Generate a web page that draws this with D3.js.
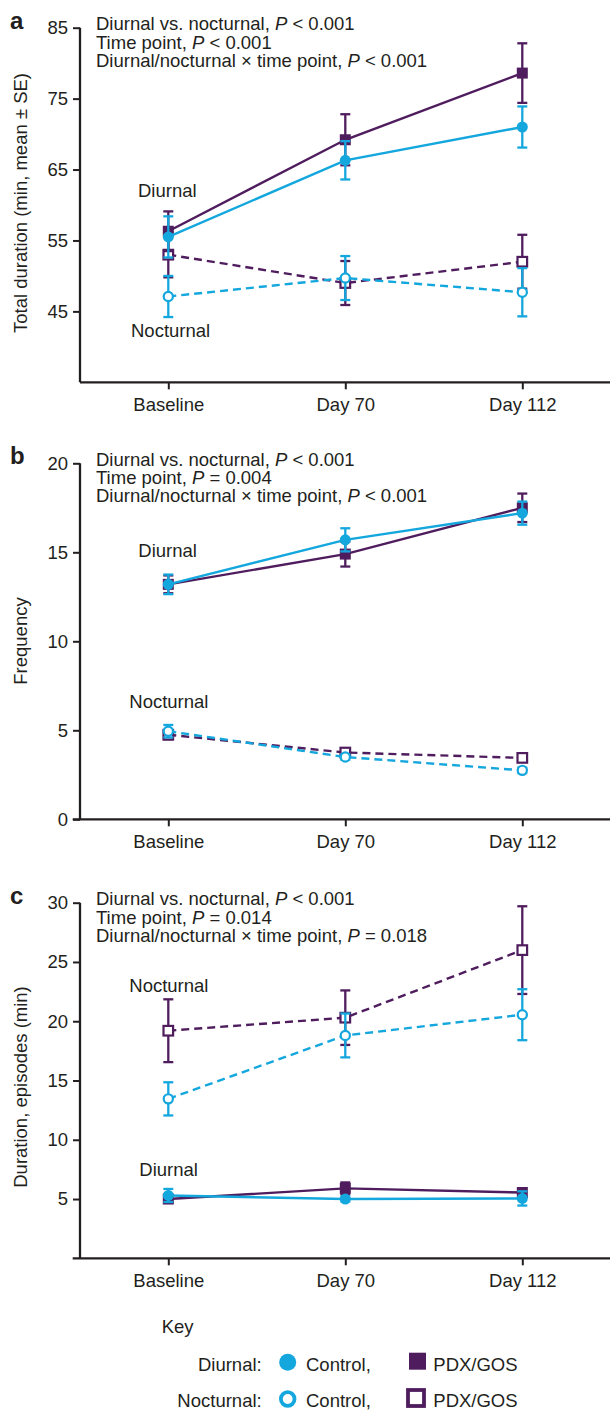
<!DOCTYPE html>
<html>
<head>
<meta charset="utf-8">
<script src="https://cdnjs.cloudflare.com/ajax/libs/d3/7.8.5/d3.min.js"></script>
<style>
  body { margin:0; background:#fff; }
  svg text { font-family:"Liberation Sans", Arial, sans-serif; fill:#231f20; }
</style>
</head>
<body>
<div id="chart"></div>
<script>

var timepoints = ["Baseline", "Day 70", "Day 112"];

// panel a - total duration
var a_dayCtrl = [55.5, 66.3, 71.0],  a_dayCtrlSE = [2.9, 2.7, 2.9];
var a_dayPdx  = [56.3, 69.2, 78.6],  a_dayPdxSE  = [2.8, 3.6, 4.2];
var a_ntCtrl  = [47.1, 49.7, 47.7],  a_ntCtrlSE  = [2.9, 3.1, 3.4];
var a_ntPdx   = [53.0, 49.0, 52.0],  a_ntPdxSE   = [3.2, 3.1, 3.8];
var a_ticks = [45, 55, 65, 75, 85];
var a_stats = [["Diurnal vs. nocturnal, ", "P", " < 0.001"],
               ["Time point, ", "P", " < 0.001"],
               ["Diurnal/nocturnal \u00d7 time point, ", "P", " < 0.001"]];

// panel b - frequency
var b_dayCtrl = [13.2, 15.7, 17.2],  b_dayCtrlSE = [0.55, 0.65, 0.65];
var b_dayPdx  = [13.2, 14.9, 17.5],  b_dayPdxSE  = [0.5, 0.7, 0.8];
var b_ntCtrl  = [4.95, 3.5, 2.75],   b_ntCtrlSE  = [0.35, 0.15, 0.15];
var b_ntPdx   = [4.75, 3.75, 3.45],  b_ntPdxSE   = [0.25, 0.15, 0.12];
var b_ticks = [0, 5, 10, 15, 20];
var b_stats = [["Diurnal vs. nocturnal, ", "P", " < 0.001"],
               ["Time point, ", "P", " = 0.004"],
               ["Diurnal/nocturnal \u00d7 time point, ", "P", " < 0.001"]];

// panel c - duration of episodes
var c_dayCtrl = [5.3, 5.0, 5.05],    c_dayCtrlSE = [0.55, 0.2, 0.6];
var c_dayPdx  = [5.0, 5.9, 5.55],    c_dayPdxSE  = [0.3, 0.5, 0.35];
var c_ntCtrl  = [13.45, 18.8, 20.55], c_ntCtrlSE = [1.4, 1.85, 2.15];
var c_ntPdx   = [19.2, 20.3, 26.0],  c_ntPdxSE   = [2.65, 2.3, 3.7];
var c_ticks = [5, 10, 15, 20, 25, 30];
var c_stats = [["Diurnal vs. nocturnal, ", "P", " < 0.001"],
               ["Time point, ", "P", " = 0.014"],
               ["Diurnal/nocturnal \u00d7 time point, ", "P", " = 0.018"]];

var purple = "#4f1d5e",
    cyan = "#14a7de",
    ink = "#231f20",
    fs = 18.5;

var svg = d3.select("#chart").append("svg")
    .attr("width", 610).attr("height", 1410);

function panel(p)
{
	var g = svg.append("g");

	var x = d3.scalePoint().domain(timepoints).range([168.3, 522.3]);
	var y = d3.scaleLinear().domain(p.domain).range([p.bottom, p.top]);

	// y axis
	var ya = g.append("g").attr("transform", "translate(80,0)")
		.call(d3.axisLeft(y).tickValues(p.ticks).tickSize(7).tickPadding(5));
	ya.select(".domain").remove();
	ya.append("line").attr("x1", 0).attr("x2", 0)
		.attr("y1", y(p.ticks[p.ticks.length-1])).attr("y2", p.bottom)
		.attr("stroke", ink).attr("stroke-width", 2.3);
	ya.selectAll(".tick line").attr("stroke", ink).attr("stroke-width", 2);
	ya.selectAll(".tick text").attr("font-size", fs).attr("fill", ink)
		.attr("font-family", "Liberation Sans, Arial, sans-serif");

	// x axis
	var xa = g.append("g").attr("transform", "translate(0," + p.bottom + ")")
		.call(d3.axisBottom(x).tickSize(7).tickPadding(9));
	xa.select(".domain").remove();
	xa.append("line").attr("x1", p.xstart).attr("x2", 610)
		.attr("stroke", ink).attr("stroke-width", 2.3);
	xa.selectAll(".tick line").attr("stroke", ink).attr("stroke-width", 2);
	xa.selectAll(".tick text").attr("font-size", fs).attr("fill", ink)
		.attr("font-family", "Liberation Sans, Arial, sans-serif");

	// panel letter
	g.append("text").attr("x", 10).attr("y", p.top + 1)
		.attr("font-size", 24).attr("font-weight", "bold").text(p.letter);

	// y title
	g.append("text")
		.attr("transform", "translate(27," + p.titleY + ") rotate(-90)")
		.attr("text-anchor", "middle").attr("font-size", fs).text(p.title);

	// stats
	p.stats.forEach(function(s, i)
	{
		var t = g.append("text").attr("x", 96).attr("y", p.top + 2.5 + i*18.3)
			.attr("font-size", fs);
		t.append("tspan").text(s[0]);
		t.append("tspan").attr("font-style", "italic").text(s[1]);
		t.append("tspan").text(s[2]);
	});

	// group labels
	p.labels.forEach(function(l)
	{
		g.append("text").attr("x", l[1]).attr("y", l[2]).attr("font-size", fs).text(l[0]);
	});

	var series = [
		{m:p.ntPdx,  se:p.ntPdxSE,  col:purple, dash:true,  shape:"sq", fill:false},
		{m:p.ntCtrl, se:p.ntCtrlSE, col:cyan,   dash:true,  shape:"ci", fill:false},
		{m:p.dayPdx, se:p.dayPdxSE, col:purple, dash:false, shape:"sq", fill:true},
		{m:p.dayCtrl,se:p.dayCtrlSE,col:cyan,   dash:false, shape:"ci", fill:true}
	];

	series.forEach(function(s)
	{
		var pts = timepoints.map(function(t, i) { return {t:t, m:s.m[i], se:s.se[i]}; });

		var line = d3.line().x(function(d){return x(d.t)}).y(function(d){return y(d.m)});
		g.append("path").datum(pts).attr("d", line)
			.attr("fill", "none").attr("stroke", s.col).attr("stroke-width", 2.4)
			.attr("stroke-dasharray", s.dash ? "8,5" : null);

		var eb = g.append("g").selectAll("g").data(pts).enter().append("g")
			.attr("stroke", s.col).attr("stroke-width", 2.3);
		eb.append("line")
			.attr("x1", function(d){return x(d.t)}).attr("x2", function(d){return x(d.t)})
			.attr("y1", function(d){return y(d.m - d.se)}).attr("y2", function(d){return y(d.m + d.se)});
		[-1, 1].forEach(function(k)
		{
			eb.append("line")
				.attr("x1", function(d){return x(d.t) - 5}).attr("x2", function(d){return x(d.t) + 5})
				.attr("y1", function(d){return y(d.m + k*d.se)}).attr("y2", function(d){return y(d.m + k*d.se)});
		});

		if (s.shape == "sq")
		{
			g.append("g").selectAll("rect").data(pts).enter().append("rect")
				.attr("x", function(d){return x(d.t) - (s.fill ? 5.5 : 4.8)})
				.attr("y", function(d){return y(d.m) - (s.fill ? 5.5 : 4.8)})
				.attr("width", s.fill ? 11 : 9.6).attr("height", s.fill ? 11 : 9.6)
				.attr("fill", s.fill ? s.col : "#fff")
				.attr("stroke", s.fill ? "none" : s.col).attr("stroke-width", 2.2);
		}
		else
		{
			g.append("g").selectAll("circle").data(pts).enter().append("circle")
				.attr("cx", function(d){return x(d.t)}).attr("cy", function(d){return y(d.m)})
				.attr("r", s.fill ? 5.5 : 4.6)
				.attr("fill", s.fill ? s.col : "#fff")
				.attr("stroke", s.fill ? "none" : s.col).attr("stroke-width", 2.2);
		}
	});
}

panel({letter:"a", domain:[35, 85], top:27.7, bottom:382.3, xstart:80, ticks:a_ticks,
	title:"Total duration (min, mean \u00b1 SE)", titleY:203, stats:a_stats,
	labels:[["Diurnal", 138, 197], ["Nocturnal", 131, 337]],
	dayCtrl:a_dayCtrl, dayCtrlSE:a_dayCtrlSE, dayPdx:a_dayPdx, dayPdxSE:a_dayPdxSE,
	ntCtrl:a_ntCtrl, ntCtrlSE:a_ntCtrlSE, ntPdx:a_ntPdx, ntPdxSE:a_ntPdxSE});

panel({letter:"b", domain:[0, 20], top:463.3, bottom:819.3, xstart:72.7, ticks:b_ticks,
	title:"Frequency", titleY:641, stats:b_stats,
	labels:[["Diurnal", 138.3, 556.7], ["Nocturnal", 129.3, 707.7]],
	dayCtrl:b_dayCtrl, dayCtrlSE:b_dayCtrlSE, dayPdx:b_dayPdx, dayPdxSE:b_dayPdxSE,
	ntCtrl:b_ntCtrl, ntCtrlSE:b_ntCtrlSE, ntPdx:b_ntPdx, ntPdxSE:b_ntPdxSE});

panel({letter:"c", domain:[0, 30], top:902.7, bottom:1258.3, xstart:72.7, ticks:c_ticks,
	title:"Duration, episodes (min)", titleY:1087, stats:c_stats,
	labels:[["Nocturnal", 129.3, 991.7], ["Diurnal", 139.3, 1176]],
	dayCtrl:c_dayCtrl, dayCtrlSE:c_dayCtrlSE, dayPdx:c_dayPdx, dayPdxSE:c_dayPdxSE,
	ntCtrl:c_ntCtrl, ntCtrlSE:c_ntCtrlSE, ntPdx:c_ntPdx, ntPdxSE:c_ntPdxSE});

// key
var key = svg.append("g");
var lfs = 18.5;
key.append("text").attr("x", 161.7).attr("y", 1333).attr("font-size", lfs).text("Key");

key.append("text").attr("x", 261.7).attr("y", 1370.7).attr("text-anchor", "end").attr("font-size", lfs).text("Diurnal:");
key.append("circle").attr("cx", 287.7).attr("cy", 1362.3).attr("r", 8.5).attr("fill", cyan);
key.append("text").attr("x", 306).attr("y", 1370.7).attr("font-size", lfs).text("Control,");
key.append("rect").attr("x", 409).attr("y", 1352.7).attr("width", 17).attr("height", 17).attr("fill", purple);
key.append("text").attr("x", 433.3).attr("y", 1370.7).attr("font-size", lfs).text("PDX/GOS");

key.append("text").attr("x", 261.7).attr("y", 1406.7).attr("text-anchor", "end").attr("font-size", lfs).text("Nocturnal:");
key.append("circle").attr("cx", 287.7).attr("cy", 1399).attr("r", 6.8).attr("fill", "#fff").attr("stroke", cyan).attr("stroke-width", 3.8);
key.append("text").attr("x", 306).attr("y", 1406.7).attr("font-size", lfs).text("Control,");
key.append("rect").attr("x", 408).attr("y", 1390).attr("width", 16).attr("height", 16).attr("fill", "#fff").attr("stroke", purple).attr("stroke-width", 3.8);
key.append("text").attr("x", 433.3).attr("y", 1406.7).attr("font-size", lfs).text("PDX/GOS");

</script>
</body>
</html>
